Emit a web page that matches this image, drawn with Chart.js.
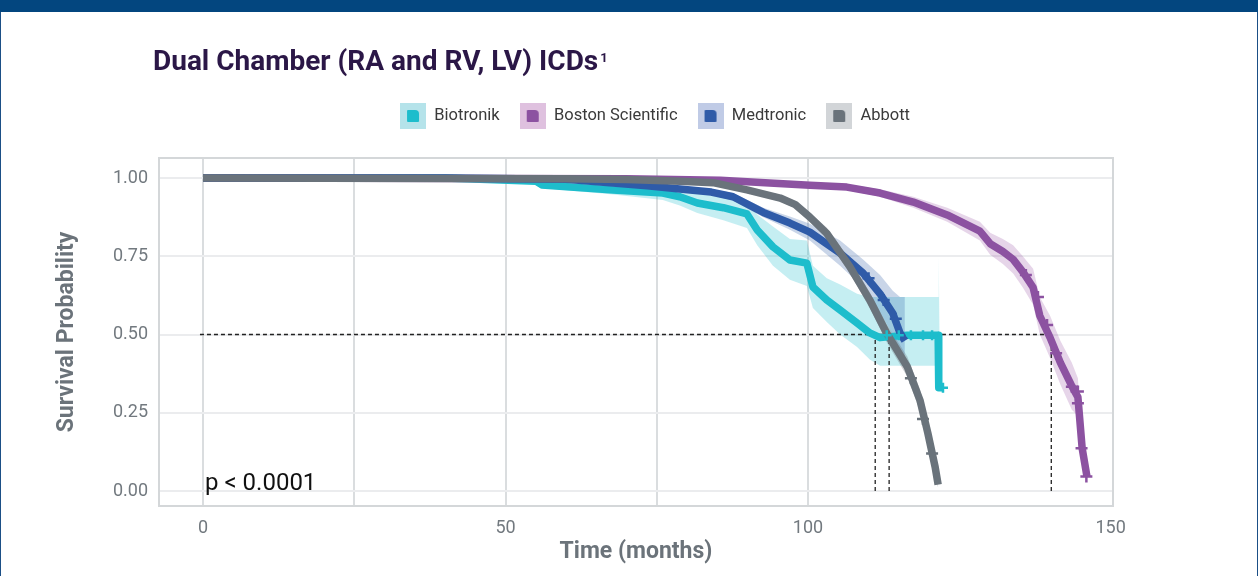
<!DOCTYPE html>
<html>
<head>
<meta charset="utf-8">
<title>Dual Chamber ICDs</title>
<script src="https://cdn.jsdelivr.net/npm/chart.js@4.4.1/dist/chart.umd.min.js"></script>
<style>
    html, body { margin: 0; padding: 0; background: #fff; }
    body { width: 1258px; height: 576px; position: relative; overflow: hidden; }
    #banner { position: absolute; left: 0; top: 0; width: 1258px; height: 12px; background: #03467f; }
    #edge { position: absolute; left: 0; top: 12px; width: 1256px; height: 564px; border-left: 1px solid #1b4f86; border-right: 1px solid #1b4f86; }
    #wrap { position: absolute; left: 0; top: 0; width: 1258px; height: 576px; }
</style>
</head>
<body>
<div id="banner"></div>
<div id="edge"></div>
<div id="wrap"><canvas id="chartKM"></canvas></div>
<script>
// Kaplan-Meier curves (time in months, survival probability)
const bioT  = [0, 40, 55, 56, 67.8, 76, 78.8, 81.7, 86, 89.9, 91.6, 94.2, 97, 99.8, 100.8, 103.1, 105.3, 108.1, 110.2, 111.9, 116.4, 121.5, 121.6, 121.8, 122.3];
const bioS  = [1.0, 1.0, 0.99, 0.978, 0.962, 0.952, 0.94, 0.92, 0.905, 0.885, 0.834, 0.78, 0.738, 0.728, 0.652, 0.61, 0.578, 0.537, 0.505, 0.49, 0.498, 0.498, 0.33, 0.33, 0.33];
const bioLo = [1.0, 0.996, 0.982, 0.968, 0.947, 0.93, 0.912, 0.888, 0.865, 0.84, 0.785, 0.72, 0.675, 0.655, 0.585, 0.54, 0.5, 0.46, 0.42, 0.40, 0.40, 0.40, 0.40, 0.33, 0.33];
const bioHi = [1.0, 1.0, 0.996, 0.988, 0.977, 0.972, 0.965, 0.95, 0.942, 0.928, 0.883, 0.845, 0.805, 0.80, 0.72, 0.68, 0.66, 0.63, 0.62, 0.62, 0.62, 0.62, 0.75, 0.33, 0.33];

const bosT  = [0, 70, 85.5, 100.3, 106.4, 111.9, 117.4, 123, 128.4, 130.1, 132.2, 133.9, 135.5, 137.2, 138.3, 140, 141.7, 143.6, 144.6, 145.3, 146.1];
const bosS  = [1.0, 0.998, 0.993, 0.977, 0.971, 0.952, 0.923, 0.882, 0.83, 0.79, 0.765, 0.74, 0.70, 0.65, 0.56, 0.49, 0.41, 0.335, 0.30, 0.137, 0.046];
const bosLo = [1.0, 0.996, 0.99, 0.97, 0.962, 0.94, 0.905, 0.86, 0.80, 0.755, 0.725, 0.695, 0.65, 0.595, 0.5, 0.425, 0.34, 0.26, 0.24, 0.137, 0.046];
const bosHi = [1.0, 1.0, 0.996, 0.984, 0.98, 0.964, 0.94, 0.905, 0.86, 0.825, 0.805, 0.785, 0.75, 0.71, 0.62, 0.56, 0.48, 0.41, 0.36, 0.137, 0.046];

const medT  = [0, 40, 60, 73.4, 78.8, 84, 87.6, 92.6, 97, 100.3, 105.3, 109.1, 111.9, 114, 115.2, 116];
const medS  = [1.0, 1.0, 0.996, 0.975, 0.965, 0.955, 0.94, 0.89, 0.856, 0.827, 0.76, 0.696, 0.63, 0.568, 0.505, 0.48];
const medLo = [1.0, 0.998, 0.99, 0.967, 0.957, 0.945, 0.928, 0.875, 0.835, 0.8, 0.72, 0.65, 0.57, 0.5, 0.44, 0.43];
const medHi = [1.0, 1.0, 1.0, 0.982, 0.973, 0.965, 0.952, 0.905, 0.877, 0.854, 0.8, 0.74, 0.69, 0.64, 0.62, 0.62];

const abbT  = [0, 60, 70, 78.8, 84.3, 89.9, 95.4, 97.9, 100.3, 103.1, 106.9, 110.2, 113, 116.4, 118.5, 119.8, 121, 121.5];
const abbS  = [1.0, 0.998, 0.995, 0.99, 0.985, 0.962, 0.936, 0.915, 0.875, 0.823, 0.717, 0.61, 0.504, 0.397, 0.29, 0.185, 0.077, 0.02];
const abbLo = [1.0, 0.996, 0.992, 0.986, 0.98, 0.955, 0.926, 0.903, 0.86, 0.805, 0.695, 0.585, 0.475, 0.365, 0.255, 0.15, 0.05, 0.01];
const abbHi = [1.0, 1.0, 0.998, 0.994, 0.99, 0.969, 0.946, 0.927, 0.89, 0.841, 0.74, 0.635, 0.533, 0.43, 0.325, 0.22, 0.105, 0.03];

// censoring marks that stand out
const bioCensT = [113, 115, 117, 119, 120.5, 122.3];
const bioCensS = [0.498, 0.498, 0.498, 0.498, 0.498, 0.33];
const bosCensT = [136, 138, 139.5, 141, 143.6, 144.6, 144.6, 145.2, 146.0];
const bosCensS = [0.69, 0.62, 0.53, 0.44, 0.333, 0.318, 0.28, 0.137, 0.046];
const medCensT = [110, 112.5, 114.5];
const medCensS = [0.68, 0.61, 0.55];
const abbCensT = [117, 119, 120.5];
const abbCensS = [0.36, 0.23, 0.12];

// median survival guides
const medianTimes = [111.1, 113.4, 140.2];
const medianLevel = 0.5;
const medianStart = -0.5;

const groups = ['Biotronik', 'Boston Scientific', 'Medtronic', 'Abbott'];
const lineColors = ['#1dbdcc', '#8c52a1', '#2f5ba8', '#6a737b'];
const bandColors = ['rgba(29,189,204,0.26)', 'rgba(150,80,165,0.24)', 'rgba(47,91,168,0.26)', 'rgba(106,115,123,0.32)'];
const legendLight = ['#b5e3ea', '#dfc1df', '#c0cbe6', '#d2d5d8'];

const xMin = -7.27, xMax = 150.4;
const yMin = -0.0479, yMax = 1.0639;

const series = [
    [bioT, bioS, bioLo, bioHi, bioCensT, bioCensS],
    [bosT, bosS, bosLo, bosHi, bosCensT, bosCensS],
    [medT, medS, medLo, medHi, medCensT, medCensS],
    [abbT, abbS, abbLo, abbHi, abbCensT, abbCensS]
];

const pts = (xs, ys) => xs.map((x, i) => ({ x: x, y: ys[i] }));

const datasets = [];
series.forEach(([t, s, lo, hi], i) => {
    datasets.push({
        label: groups[i] + ' upper', data: pts(t, hi), borderWidth: 0, pointRadius: 0,
        backgroundColor: bandColors[i], fill: '+1', order: 20 - i
    });
    datasets.push({
        label: groups[i] + ' lower', data: pts(t, lo), borderWidth: 0, pointRadius: 0,
        backgroundColor: bandColors[i], fill: false, order: 20 - i
    });
});

datasets.push({
    label: 'median', data: [{ x: medianStart, y: medianLevel }, { x: medianTimes[2], y: medianLevel }],
    borderColor: '#222', borderWidth: 1.3, borderDash: [4, 3], pointRadius: 0, fill: false, order: 10
});
medianTimes.forEach(m => {
    datasets.push({
        label: 'median', data: [{ x: m, y: 0 }, { x: m, y: medianLevel }],
        borderColor: '#222', borderWidth: 1.3, borderDash: [4, 3], pointRadius: 0, fill: false, order: 10
    });
});

series.forEach(([t, s], i) => {
    datasets.push({
        label: groups[i], data: pts(t, s), borderColor: lineColors[i], borderWidth: 7.5,
        pointRadius: 0, fill: false, tension: 0, borderJoinStyle: 'round', order: 8 - i
    });
});

series.forEach(([, , , , ct, cs], i) => {
    datasets.push({
        label: groups[i] + ' censored', data: pts(ct, cs), showLine: false,
        pointStyle: 'cross', pointRadius: i === 0 ? 5 : 6, borderWidth: 2.5,
        borderColor: lineColors[i], backgroundColor: lineColors[i], order: 4 - i
    });
});

function makeIcon(light, dark) {
    const c = document.createElement('canvas');
    c.width = 26; c.height = 26;
    const g = c.getContext('2d');
    g.fillStyle = light;
    g.fillRect(0, 0, 26, 26);
    g.fillStyle = dark;
    g.beginPath();
    g.roundRect(7, 7, 12, 12, [1, 4, 1, 1]);
    g.fill();
    return c;
}
const icons = groups.map((g, i) => makeIcon(legendLight[i], lineColors[i]));

// legend.fit leaves 10px below the items; stretch it so the plot starts at the right height
const legendSpacer = {
    id: 'legendSpacer',
    beforeInit(chart) {
        const fit = chart.legend.fit;
        chart.legend.fit = function () {
            fit.call(this);
            this.height += 23.75;
        };
    }
};

const decor = {
    id: 'decor',
    beforeDatasetsDraw(chart) {
        const { ctx, chartArea: a } = chart;
        ctx.save();
        ctx.strokeStyle = '#d4d7d9';
        ctx.lineWidth = 2;
        ctx.strokeRect(a.left, a.top, a.right - a.left, a.bottom - a.top);
        ctx.restore();
    },
    afterDraw(chart) {
        const ctx = chart.ctx;
        ctx.save();
        const title = 'Dual Chamber (RA and RV, LV) ICDs';
        ctx.font = 'bold 28px Roboto';
        ctx.fillStyle = '#2b1747';
        ctx.textBaseline = 'alphabetic';
        ctx.fillText(title, 153, 70);
        const w = ctx.measureText(title).width;
        ctx.font = 'bold 13px Roboto';
        ctx.fillText('1', 153 + w + 2, 62);
        ctx.font = '24px Roboto';
        ctx.fillStyle = '#111';
        ctx.fillText('p < 0.0001', 205, 490);
        ctx.restore();
    }
};

new Chart(document.getElementById('chartKM'), {
    type: 'line',
    data: { datasets: datasets },
    plugins: [legendSpacer, decor],
    options: {
        responsive: true,
        maintainAspectRatio: false,
        animation: false,
        events: [],
        layout: { padding: { left: 52, right: 0, top: 87.75, bottom: 0 } },
        plugins: {
            tooltip: { enabled: false },
            legend: {
                position: 'top',
                onClick: null,
                labels: {
                    usePointStyle: true,
                    pointStyleWidth: 26,
                    padding: 20,
                    color: '#3a3a3a',
                    font: { family: 'Roboto', size: 16.5 },
                    generateLabels: () => groups.map((g, i) => ({
                        text: g, pointStyle: icons[i], fillStyle: lineColors[i],
                        strokeStyle: lineColors[i], lineWidth: 0, hidden: false,
                        fontColor: '#3a3a3a', datasetIndex: 0
                    }))
                }
            }
        },
        scales: {
            x: {
                type: 'linear',
                min: xMin,
                max: xMax,
                afterBuildTicks: s => { s.ticks = [0, 25, 50, 75, 100, 125, 150].map(v => ({ value: v })); },
                afterFit: s => { s.height = 70; },
                grid: {
                    drawTicks: false,
                    lineWidth: 2,
                    color: c => (c.tick && (c.tick.value === 125 || c.tick.value === 150)) ? 'rgba(0,0,0,0)' : '#dadddf'
                },
                border: { display: false },
                ticks: {
                    autoSkip: false,
                    maxRotation: 0,
                    padding: 12,
                    color: '#72797f',
                    font: { family: 'Roboto', size: 18 },
                    callback: v => (v % 50 === 0 ? String(v) : '')
                },
                title: {
                    display: true,
                    text: 'Time (months)',
                    color: '#6b737a',
                    font: { family: 'Roboto', size: 23, weight: 'bold' },
                    padding: { top: 0, bottom: 9.5 }
                }
            },
            y: {
                type: 'linear',
                position: 'left',
                min: yMin,
                max: yMax,
                afterBuildTicks: s => { s.ticks = [0, 0.25, 0.5, 0.75, 1].map(v => ({ value: v })); },
                afterFit: s => { s.width = 107; },
                grid: { drawTicks: false, lineWidth: 2, color: '#ebecee' },
                border: { display: false },
                ticks: {
                    padding: 11,
                    color: '#72797f',
                    font: { family: 'Roboto', size: 18 },
                    callback: v => Number(v).toFixed(2)
                },
                title: {
                    display: true,
                    text: 'Survival Probability',
                    color: '#6b737a',
                    font: { family: 'Roboto', size: 23, weight: 'bold' },
                    padding: { top: 1, bottom: 0 }
                }
            },
            yRight: {
                type: 'linear',
                position: 'right',
                afterFit: s => { s.width = 145; },
                grid: { display: false },
                border: { display: false },
                ticks: { display: false }
            }
        }
    }
});
</script>
</body>
</html>
